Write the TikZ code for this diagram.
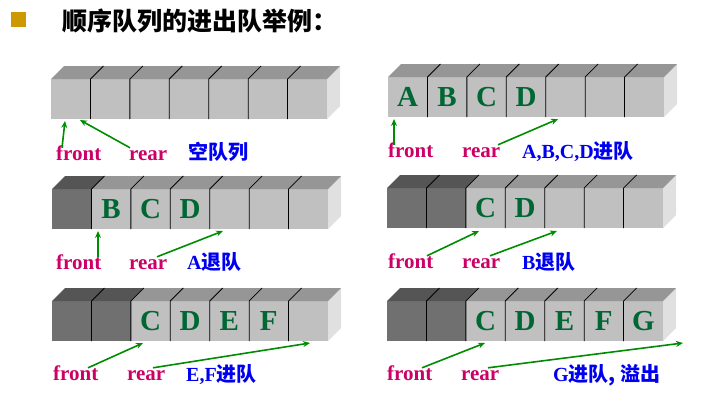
\documentclass[tikz,border=0pt]{standalone}
\usepackage{fontspec}
\setmainfont{Liberation Serif}
\newfontfamily\cjk{Noto Sans CJK SC}
\usetikzlibrary{arrows.meta}
\definecolor{qfront}{RGB}{192,192,192}
\definecolor{qtop}{RGB}{150,150,150}
\definecolor{qside}{RGB}{224,224,224}
\definecolor{qdark}{RGB}{112,112,112}
\definecolor{qdtop}{RGB}{85,85,85}
\definecolor{ptrgreen}{RGB}{0,140,0}
\definecolor{elemgreen}{RGB}{0,102,51}
\definecolor{lblred}{RGB}{204,0,102}
\definecolor{notblue}{RGB}{0,0,240}
\definecolor{bullet}{RGB}{204,153,0}

\begin{document}
\begin{tikzpicture}[x=1pt,y=-1pt,
  elem/.style={font=\bfseries\fontsize{29}{29}\selectfont,text=elemgreen,inner sep=0},
  lbl/.style={font=\bfseries\fontsize{21}{21}\selectfont,text=lblred,inner sep=0,anchor=base west,text height=14pt},
  note/.style={font=\bfseries\fontsize{20}{20}\selectfont,text=notblue,inner sep=0,anchor=base west},
  ptr/.style={draw=ptrgreen,line width=1.6pt,-{Stealth[length=7pt,width=6pt]}},
  divider/.style={draw=black,line width=0.8pt}]
\useasboundingbox (0,0) rectangle (713,400);
% title
\fill[bullet] (11,12) rectangle (26,27);
\node[anchor=west,inner sep=0,font=\cjk\bfseries\fontsize{25}{25}\selectfont] (title) at (62,21) {顺序队列的进出队举例：};
% the six queues, 7 cells each
\foreach \qx/\qy/\nd [count=\q] in {51/79/0,388/77/0,52/189/1,387/188/2,52/301/2,387/301/2}{
  \coordinate (q\q) at (\qx,\qy);
  \fill[qside] (\qx+276,\qy) -- ++(13,-13) -- ++(0,40) -- ++(-13,13) -- cycle;
  \foreach \i in {0,...,6}{
    \ifnum\i<\nd \def\fc{qdark}\def\tc{qdtop}\else \def\fc{qfront}\def\tc{qtop}\fi
    \fill[\fc] (\qx+\i*39.43,\qy) rectangle ++(39.43,40);
    \fill[\tc] (\qx+\i*39.43,\qy) -- ++(13,-13) -- ++(39.43,0) -- ++(-13,13) -- cycle;
  }
  \foreach \i in {1,...,6}
    \draw[divider] (\qx+\i*39.43,\qy+40) -- ++(0,-40) -- ++(13,-13);
}
% elements
\foreach \q/\i/\c in {2/0/A,2/1/B,2/2/C,2/3/D,3/1/B,3/2/C,3/3/D,4/2/C,4/3/D,
  5/2/C,5/3/D,5/4/E,5/5/F,6/2/C,6/3/D,6/4/E,6/5/F,6/6/G}
  \node[elem] (q\q\c) at ([shift={(\i*39.43+19.7,20)}]q\q) {\c};
% labels
\node[lbl] (f1) at (56,160) {front};
\node[lbl] (r1) at (129,160) {rear};
\node[note] (n1) at (188,159) {\cjk 空队列};
\node[lbl] (f2) at (388,157) {front};
\node[lbl] (r2) at (462,157) {rear};
\node[note] (n2) at (522,158) {A,B,C,D\cjk 进队};
\node[lbl] (f3) at (56,269) {front};
\node[lbl] (r3) at (129,269) {rear};
\node[note] (n3) at (187,269) {A\cjk 退队};
\node[lbl] (f4) at (388,268) {front};
\node[lbl] (r4) at (462,268) {rear};
\node[note] (n4) at (522,269) {B\cjk 退队};
\node[lbl] (f5) at (53,380) {front};
\node[lbl] (r5) at (127,380) {rear};
\node[note] (n5) at (186,381) {E,F\cjk 进队};
\node[lbl] (f6) at (387,380) {front};
\node[lbl] (r6) at (461,380) {rear};
\node[note] (n6) at (553,381) {G\cjk 进队, 溢出};
% pointer targets
\coordinate (f1h) at (65,121);  \coordinate (r1h) at (80,120);
\coordinate (f2h) at (394,119); \coordinate (r2h) at (558,119);
\coordinate (f3h) at (98,231);  \coordinate (r3h) at (223,231);
\coordinate (f4h) at (479,231); \coordinate (r4h) at (557,231);
\coordinate (f5h) at (143,343); \coordinate (r5h) at (310,343);
\coordinate (f6h) at (485,343); \coordinate (r6h) at (683,343);
\draw[ptr] ([xshift=6pt,yshift=-2pt]f1.north west) -- (f1h);
\draw[ptr] ([xshift=1pt,yshift=-2pt]r1.north west) -- (r1h);
\draw[ptr] ([xshift=6pt,yshift=-2pt]f2.north west) -- (f2h);
\draw[ptr] ([xshift=36pt,yshift=-2pt]r2.north west) -- (r2h);
\draw[ptr] ([xshift=42pt,yshift=-2pt]f3.north west) -- (f3h);
\draw[ptr] ([xshift=28pt,yshift=-2pt]r3.north west) -- (r3h);
\draw[ptr] ([xshift=39pt,yshift=-2pt]f4.north west) -- (f4h);
\draw[ptr] ([xshift=28pt,yshift=-2pt]r4.north west) -- (r4h);
\draw[ptr] ([xshift=35pt,yshift=-2pt]f5.north west) -- (f5h);
\draw[ptr] ([xshift=26pt,yshift=-2pt]r5.north west) -- (r5h);
\draw[ptr] ([xshift=35pt,yshift=-2pt]f6.north west) -- (f6h);
\draw[ptr] ([xshift=27pt,yshift=-2pt]r6.north west) -- (r6h);
\end{tikzpicture}
\end{document}
